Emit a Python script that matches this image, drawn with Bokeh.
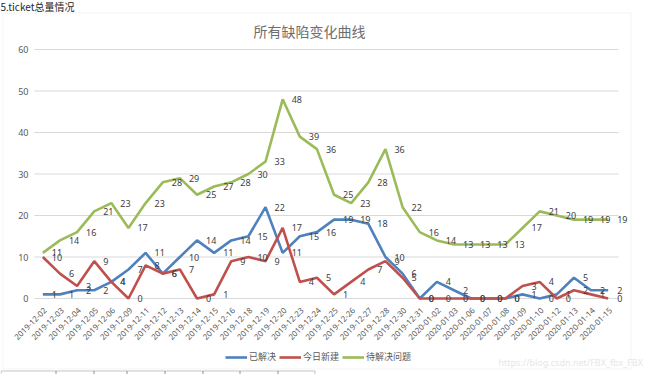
import math
from bokeh.plotting import figure
from bokeh.models import (FactorRange, Range1d, ColumnDataSource, LabelSet, Label,
                          Legend, BoxAnnotation, Grid)
from bokeh.core.properties import value
from bokeh.embed import file_html
from bokeh.resources import INLINE

# ---------------- data ----------------
dates = ["2019-12-02", "2019-12-03", "2019-12-04", "2019-12-05", "2019-12-06",
         "2019-12-09", "2019-12-11", "2019-12-12", "2019-12-13", "2019-12-14",
         "2019-12-15", "2019-12-16", "2019-12-18", "2019-12-19", "2019-12-20",
         "2019-12-23", "2019-12-24", "2019-12-25", "2019-12-26", "2019-12-27",
         "2019-12-28", "2019-12-30", "2019-12-31", "2020-01-02", "2020-01-03",
         "2020-01-06", "2020-01-07", "2020-01-08", "2020-01-09", "2020-01-10",
         "2020-01-12", "2020-01-13", "2020-01-14", "2020-01-15"]
resolved = [1, 1, 2, 2, 4, 7, 11, 6, 10, 14, 11, 14, 15, 22, 11, 15, 16, 19, 19, 18,
            10, 6, 0, 4, 2, 0, 0, 0, 1, 0, 1, 5, 2, 2]
new_today = [10, 6, 3, 9, 4, 0, 8, 6, 7, 0, 1, 9, 10, 9, 17, 4, 5, 1, 4, 7,
             9, 5, 0, 0, 0, 0, 0, 0, 3, 4, 0, 2, 1, 0]
pending = [11, 14, 16, 21, 23, 17, 23, 28, 29, 25, 27, 28, 30, 33, 48, 39, 36, 25, 23, 28,
           36, 22, 16, 14, 13, 13, 13, 13, 17, 21, 20, 19, 19, 19]
series_names = ["已解决", "今日新建", "待解决问题"]
y_ticks = [0, 10, 20, 30, 40, 50, 60]
title_text = "所有缺陷变化曲线"
header_text = "5.ticket总量情况"
watermark = "https://blog.csdn.net/FBX_fbx_FBX"

colors = ["#4F81BD", "#C0504D", "#9BBB59"]
GRAY = "#595959"
W, H = 650, 374

src = ColumnDataSource(dict(
    date=dates,
    resolved=resolved, new_today=new_today, pending=pending,
    resolved_t=[str(v) for v in resolved],
    new_today_t=[str(v) for v in new_today],
    pending_t=[str(v) for v in pending],
))
ysrc = ColumnDataSource(dict(
    y=y_ticks, t=[str(v) for v in y_ticks],
    x0=[0] * len(y_ticks), x1=[len(dates) + 0.1] * len(y_ticks),
))

p = figure(width=W, height=H,
           x_range=FactorRange(*dates, range_padding=0.1159, range_padding_units="percent"),
           y_range=Range1d(-18.31, 71.81),
           x_axis_location=None, y_axis_location=None,
           output_backend="svg", toolbar_location=None, min_border=0)
p.background_fill_color = "white"
p.border_fill_color = "white"
p.outline_line_color = None
p.center = [r for r in p.center if not isinstance(r, Grid)]

# horizontal grid lines (value axis)
p.segment(x0="x0", x1="x1", y0="y", y1="y", source=ysrc,
          line_color="#d9d9d9", line_width=1)

# value axis labels
p.add_layout(LabelSet(x=28, y="y", text="t", source=ysrc, x_units="screen",
                      text_align="right", text_baseline="middle",
                      text_font_size="9px", text_color=GRAY,
                      text_font=value("Noto Sans")))
# category axis labels
p.add_layout(LabelSet(x="date", y=66, y_units="screen", text="date", source=src,
                      angle=math.pi / 4, x_offset=2,
                      text_align="right", text_baseline="middle",
                      text_font_size="8px", text_color=GRAY,
                      text_font=value("Noto Sans")))

keys = ["resolved", "new_today", "pending"]
renderers = []
for k, c in zip(keys, colors):
    r = p.line(x="date", y=k, source=src, line_color=c, line_width=2.6)
    renderers.append(r)

for k in keys:
    p.add_layout(LabelSet(x="date", y=k, text=k + "_t", source=src,
                          x_offset=9, y_offset=0, text_baseline="middle",
                          text_font_size="9px", text_color="#404040",
                          text_font=value("Noto Sans")))

legend = Legend(items=[(n, [r]) for n, r in zip(series_names, renderers)],
                location=(225, 11), orientation="horizontal",
                padding=0, margin=0, spacing=3, label_standoff=2,
                glyph_width=22, glyph_height=10, label_height=10,
                label_text_font_size="9px", label_text_color=GRAY,
                label_text_font="Noto Sans CJK SC",
                border_line_color=None, background_fill_alpha=0)
p.add_layout(legend)

# chart box
p.add_layout(BoxAnnotation(left=2.5, right=630.5, top=361.5, bottom=5.5,
                           left_units="screen", right_units="screen",
                           top_units="screen", bottom_units="screen",
                           fill_color=None, fill_alpha=0,
                           line_color="#d9d9d9", line_width=1))

# table edge below
cells = [0, 55, 93, 126, 164, 202, 239, 277, 314]
for a, b in zip(cells[:-1], cells[1:]):
    p.add_layout(BoxAnnotation(left=a + 0.5, right=b + 0.5, top=3.5, bottom=-10,
                               left_units="screen", right_units="screen",
                               top_units="screen", bottom_units="screen",
                               fill_color=None, fill_alpha=0,
                               line_color="#404040", line_width=1))

p.add_layout(Label(x=309, y=343.5, x_units="screen", y_units="screen",
                   text=title_text, text_align="center", text_baseline="middle",
                   text_font="Noto Sans CJK SC", text_font_size="14px",
                   text_color="#6e6e6e"))
p.add_layout(Label(x=0, y=368.5, x_units="screen", y_units="screen",
                   text=header_text, text_align="left", text_baseline="middle",
                   text_font="Noto Sans CJK SC", text_font_size="10px",
                   text_color="#262626"))
p.add_layout(Label(x=498, y=12, x_units="screen", y_units="screen",
                   text=watermark, text_align="left", text_baseline="middle",
                   text_font="Noto Sans", text_font_size="9px",
                   text_color="#e6e6e6"))

open("out.html", "w").write(file_html(p, INLINE))
